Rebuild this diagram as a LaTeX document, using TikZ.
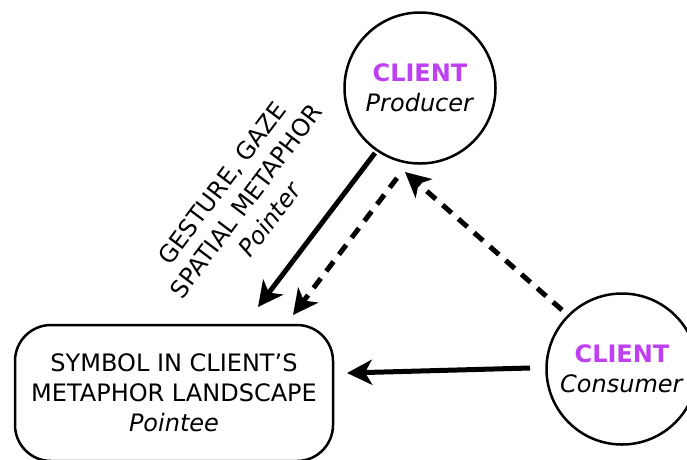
\documentclass[tikz,border=0pt]{standalone}
\usepackage{fontspec}
\setmainfont{DejaVu Sans}
\usetikzlibrary{arrows.meta}
\definecolor{clientpurple}{RGB}{190,64,240}
\tikzset{
  bigtext/.style={font=\fontsize{24}{30}\selectfont},
  roundcircle/.style={circle, draw, line width=2.5pt, minimum size=151pt, inner sep=0pt, align=center, bigtext},
  symbolbox/.style={draw, line width=2.5pt, rounded corners=36pt, minimum width=318pt, minimum height=136pt, align=center, bigtext},
  solidarrow/.style={line width=5pt, -{Stealth[length=25pt,width=25pt,inset=7pt]}},
  dasharrow/.style={line width=5pt, dash pattern=on 12pt off 9pt, -{Stealth[length=25pt,width=25pt,inset=7pt]}}
}
\begin{document}
\begin{tikzpicture}[x=1pt, y=-1pt]
  \useasboundingbox (0,0) rectangle (687,459);

  % participants
  \node[roundcircle] (prod) at (420,88) {\textcolor{clientpurple}{\textbf{CLIENT}}\\\textit{Producer}};
  \node[roundcircle] (cons) at (622,369) {\textcolor{clientpurple}{\textbf{CLIENT}}\\\textit{Consumer}};
  \node[symbolbox] (sym) at (174,393) {SYMBOL IN CLIENT’S\\METAPHOR LANDSCAPE\\\textit{Pointee}};

  % arrow end points
  \coordinate (pa) at (375,153);
  \coordinate (pb) at (258,307);
  \coordinate (da) at (397,178);
  \coordinate (db) at (293,315);
  \coordinate (ca) at (562,310);
  \coordinate (cb) at (405,172);
  \coordinate (sa) at (530,368);
  \coordinate (sb) at (347,373);

  % producer points at the symbol
  \draw[solidarrow] (pa) -- (pb);
  \draw[dasharrow] (da) -- (db);
  % consumer looks back at the producer and on to the symbol
  \draw[dasharrow] (ca) -- (cb);
  \draw[solidarrow] (sa) -- (sb);

  % label of the pointing channel
  \node[rotate=53, align=center, bigtext] (lbl) at (246,201)
    {GESTURE, GAZE\\SPATIAL METAPHOR\\\textit{Pointer}};
\end{tikzpicture}
\end{document}
